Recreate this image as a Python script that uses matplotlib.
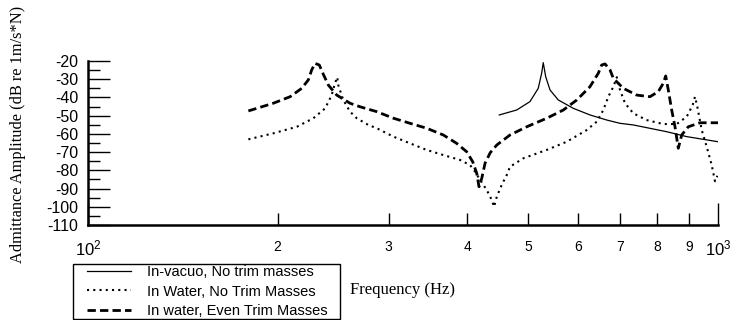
import matplotlib
matplotlib.use("Agg")
import matplotlib.pyplot as plt
from matplotlib.ticker import FixedLocator, FixedFormatter
from matplotlib.patches import Rectangle

plt.rcParams['font.family'] = ['Liberation Sans', 'DejaVu Sans']
plt.rcParams['mathtext.fontset'] = 'custom'
plt.rcParams['mathtext.rm'] = 'Liberation Sans'
plt.rcParams['mathtext.default'] = 'regular'

# In-vacuo, no trim masses
vac_f = [449.6, 479.1, 502.9, 518.4, 524.9, 528.0, 532.7, 541.2, 557.9, 589.5, 626.3,
         666.0, 699.0, 733.9, 829.0, 891.9, 1000]
vac_db = [-49.6, -46.9, -42.3, -35.0, -26.7, -20.9, -28.6, -35.9, -41.4, -46.0, -49.6,
          -52.4, -54.2, -55.1, -58.8, -61.5, -64.3]

# In water, no trim masses
wat_f = [179.7, 196.8, 214.5, 227.9, 237.9, 243.7, 246.6, 248.7, 249.6, 254.2, 260.6,
         267.0, 278.6, 287.3, 305.3, 324.5, 344.8, 366.4, 389.5, 404.0, 411.5, 419.1,
         429.5, 437.4, 441.1, 445.5, 453.6, 462.0, 467.6, 490.9, 534.8, 575.3, 618.8,
         642.0, 657.6, 669.8, 682.1, 691.0, 699.0, 711.9, 733.9, 770.0, 818.8, 859.9,
         891.9, 911.7, 919.4, 927.2, 942.2, 959.5, 977.2, 989.1, 998.0]
wat_db = [-63.0, -59.7, -56.1, -51.4, -46.0, -38.7, -32.2, -28.9, -33.2, -41.4, -47.8,
          -51.4, -55.1, -56.9, -61.5, -65.2, -68.8, -71.6, -74.3, -77.1, -80.7, -85.3,
          -90.8, -96.3, -100.0, -94.5, -88.0, -82.6, -78.0, -73.4, -68.8, -64.3, -57.9,
          -53.3, -46.9, -39.6, -34.1, -28.9, -35.9, -43.2, -48.7, -52.4, -54.6, -54.6,
          -50.6, -44.1, -39.6, -45.1, -57.9, -67.0, -77.1, -86.0, -83.0]

# In water, even trim masses
even_f = [179.7, 196.8, 209.3, 218.4, 223.7, 226.5, 229.3, 232.9, 235.9, 240.7, 248.2,
          260.6, 270.2, 287.3, 305.3, 324.5, 344.8, 366.4, 384.8, 399.1, 408.0, 414.0,
          417.5, 421.7, 426.8, 435.0, 445.5, 467.6, 497.0, 534.8, 568.2, 596.8, 626.3,
          645.7, 653.7, 661.7, 673.9, 682.1, 707.5, 743.0, 779.9, 804.0, 818.8, 826.0,
          833.9, 844.3, 854.6, 864.9, 875.8, 897.1, 936.3, 1000]
even_db = [-47.4, -43.2, -39.6, -35.0, -30.4, -24.9, -21.3, -22.2, -26.7, -33.2, -38.7,
           -43.2, -45.1, -47.8, -51.4, -54.2, -56.9, -60.6, -65.2, -69.8, -75.3, -81.6,
           -89.0, -84.4, -76.1, -70.3, -66.1, -60.6, -56.1, -51.4, -46.9, -41.4, -34.1,
           -26.7, -22.2, -21.6, -24.9, -29.5, -35.0, -38.7, -39.6, -36.8, -32.2, -28.2,
           -35.9, -46.9, -56.1, -67.9, -60.6, -56.1, -53.9, -53.9]

labels = ['In-vacuo, No trim masses', 'In Water, No Trim Masses', 'In water, Even Trim Masses']
y_ticks = [-20, -30, -40, -50, -60, -70, -80, -90, -100, -110]
x_minor = [200, 300, 400, 500, 600, 700, 800, 900]
x_minor_labels = ['2', '3', '4', '5', '6', '7', '8', '9']

W, H = 732, 320
fig = plt.figure(figsize=(W/100, H/100), dpi=100)
ax = fig.add_axes([88/W, 1-225/H, 630/W, 164/H])

ax.plot(vac_f, vac_db, color='black', lw=0.9, label=labels[0])
ax.plot(wat_f, wat_db, color='black', lw=1.5, dashes=(1, 2), label=labels[1])
ax.plot(even_f, even_db, color='black', lw=2.0, dashes=(3, 1.5), label=labels[2])

ax.set_xscale('log')
ax.set_xlim(100, 1000)
ax.set_ylim(-110, -20)

ax.xaxis.set_major_locator(FixedLocator([100, 1000]))
ax.xaxis.set_major_formatter(FixedFormatter(['$10^2$', '$10^3$']))
ax.xaxis.set_minor_locator(FixedLocator(x_minor))
ax.xaxis.set_minor_formatter(FixedFormatter(x_minor_labels))

ax.yaxis.set_major_locator(FixedLocator(y_ticks))
ax.yaxis.set_major_formatter(FixedFormatter([str(v) for v in y_ticks]))
ax.yaxis.set_minor_locator(FixedLocator([-25, -35, -45, -55, -65, -75, -85, -95, -105]))

ax.tick_params(axis='both', which='major', direction='in', length=16, width=1.0, color='black')
ax.tick_params(axis='both', which='minor', direction='in', length=8.5, width=1.0, color='black')
ax.tick_params(axis='y', which='major', labelsize=11.5, pad=7)
ax.tick_params(axis='x', which='major', labelsize=12, pad=10)
ax.tick_params(axis='x', which='minor', labelsize=10, pad=11)

ax.spines['top'].set_visible(False)
ax.spines['right'].set_visible(False)
ax.spines['left'].set_linewidth(1.8)
ax.spines['bottom'].set_linewidth(1.8)

fig.text(18/W, 1-134/H, 'Admittance Amplitude (dB re 1m/s*N)', rotation=90,
         ha='center', va='center', fontsize=11.8, family=['Liberation Serif'])
fig.text(350/W, 1-290/H, 'Frequency (Hz)', ha='left', va='center', fontsize=12,
         family=['Liberation Serif'])

# legend box
fig.patches.append(Rectangle((73/W, 1-319/H), 267/W, 55/H, transform=fig.transFigure,
                             facecolor='white', edgecolor='black', lw=1.0, zorder=1))
leg = fig.legend(loc='upper left', bbox_to_anchor=(87/W, 1-265/H), fontsize=10.5,
                 frameon=False, handlelength=3.0, handletextpad=1.1, labelspacing=0.38,
                 borderpad=0, borderaxespad=0)
leg.set_zorder(2)

fig.savefig('out.png', dpi=100)
